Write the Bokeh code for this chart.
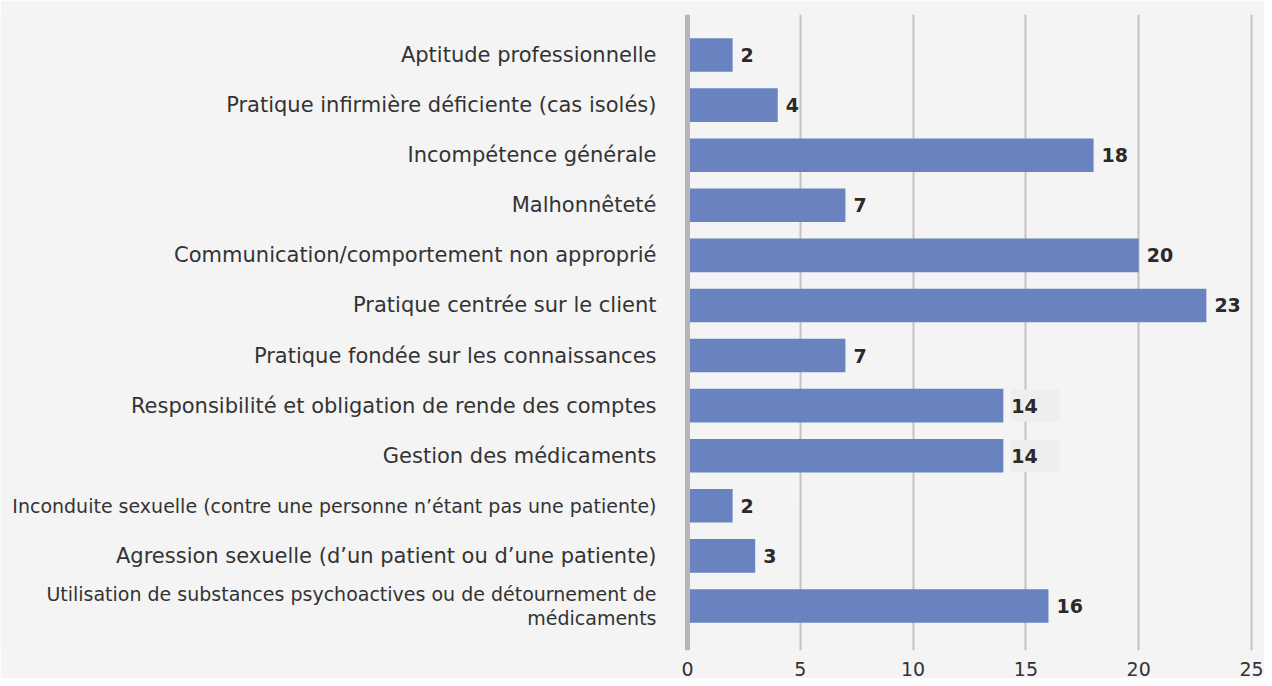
from bokeh.plotting import figure
from bokeh.models import Range1d, Span, Label, FixedTicker, ColumnDataSource
from bokeh.core.properties import value
from bokeh.embed import file_html
from bokeh.resources import INLINE

categories = [
    "Aptitude professionnelle",
    "Pratique infirmière déficiente (cas isolés)",
    "Incompétence générale",
    "Malhonnêteté",
    "Communication/comportement non approprié",
    "Pratique centrée sur le client",
    "Pratique fondée sur les connaissances",
    "Responsibilité et obligation de rende des comptes",
    "Gestion des médicaments",
    "Inconduite sexuelle (contre une personne n’étant pas une patiente)",
    "Agression sexuelle (d’un patient ou d’une patiente)",
    "Utilisation de substances psychoactives ou de détournement de\nmédicaments",
]
values = [2, 4, 18, 7, 20, 23, 7, 14, 14, 2, 3, 16]
small_labels = [9, 11]
highlighted = [7, 8]
x_ticks = [0, 5, 10, 15, 20, 25]

FONT = "DejaVu Sans"
BG = "#f4f4f4"

positions = list(range(len(categories)))
sizes = ["19px" if i in small_labels else "21px" for i in positions]
src = ColumnDataSource(dict(y=positions, v=values, cat=categories, fs=sizes))

# axis (value 0) sits 687 px from the left edge; value 25 at ~1251 px
px_per_unit = (1251 - 687) / 25
x_start = -687 / px_per_unit
x_end = (1264 - 687) / px_per_unit

p = figure(width=1264, height=678, output_backend="svg", toolbar_location=None,
           x_range=Range1d(x_start, x_end), y_range=Range1d(11.89, -0.81),
           min_border_left=0, min_border_right=0, min_border_top=14, min_border_bottom=28)
p.background_fill_color = BG
p.border_fill_color = BG
p.outline_line_color = None
p.yaxis.visible = False
p.ygrid.grid_line_color = None

p.xaxis.ticker = FixedTicker(ticks=x_ticks)
p.xgrid.ticker = FixedTicker(ticks=x_ticks)
p.xgrid.grid_line_color = "#c5c1c5"
p.xgrid.grid_line_width = 2
p.xaxis.axis_line_color = None
p.xaxis.major_tick_line_color = None
p.xaxis.minor_tick_line_color = None
p.xaxis.major_label_standoff = 5
p.xaxis.major_label_text_font = FONT
p.xaxis.major_label_text_font_size = "19px"
p.xaxis.major_label_text_color = "#333333"

p.hbar(y="y", right="v", left=0, height=0.67, source=src,
       fill_color="#6983c1", line_color=None)

p.add_layout(Span(location=0, dimension="height", line_color="#b9b4b9", line_width=5))

p.text(x=0, y="y", text="cat", source=src, x_offset=-31, text_align="right",
       text_baseline="middle", text_font=value(FONT), text_font_size="fs",
       text_color="#333333", text_line_height=1.1)

for i, v in enumerate(values):
    kw = {}
    if i in highlighted:
        kw = dict(background_fill_color="#efeded",
                  padding=dict(left=0, right=22, top=9, bottom=9))
    p.add_layout(Label(x=v, y=i, text=str(v), x_offset=8, text_align="left",
                       text_baseline="middle", text_font=FONT, text_font_size="19px",
                       text_font_style="bold", text_color="#2a2a2a", **kw))

open("out.html", "w").write(file_html(p, INLINE))
